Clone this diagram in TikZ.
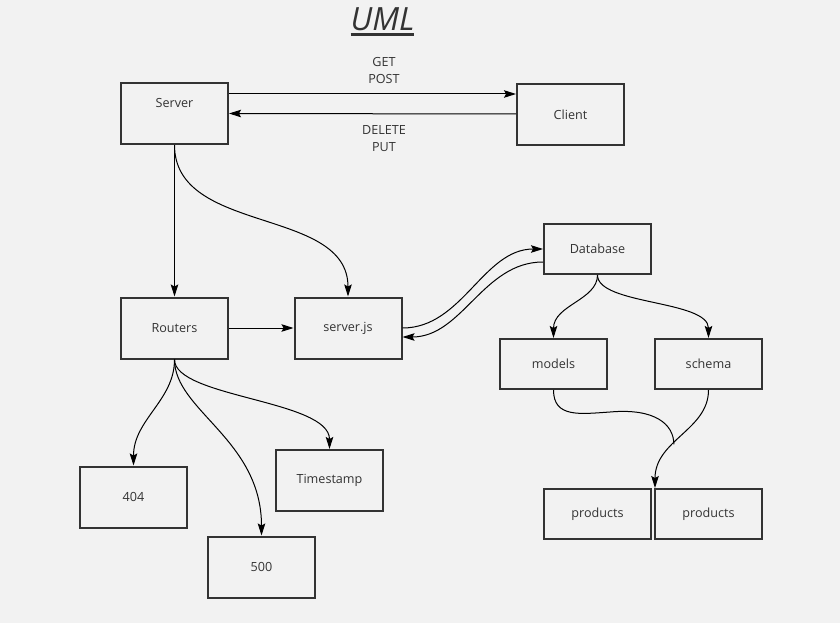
\documentclass[tikz,border=0pt]{standalone}
\usepackage{fontspec}
\setmainfont{Open Sans}
\usetikzlibrary{arrows.meta}
\definecolor{bgc}{HTML}{F2F2F2}
\definecolor{boxc}{HTML}{333333}
\definecolor{txtc}{HTML}{333333}
\newcommand\mytxt{\fontsize{12.6}{17}\selectfont}
\newcommand\myul[1]{\setbox0\hbox{#1}\rlap{\color{txtc}\rule[-5pt]{\wd0}{2.6pt}}\box0}
\begin{document}
\begin{tikzpicture}[x=1pt,y=-1pt,
  box/.style={draw=boxc, line width=2pt, minimum width=107pt, minimum height=61pt, inner sep=0pt, font=\mytxt, text=txtc, fill=bgc},
  sbox/.style={box, minimum height=50pt},
  conn/.style={draw=black, line width=1pt, -{Stealth[length=12pt,width=7.5pt,inset=2pt]}},
  plain/.style={draw=black, line width=1pt},
  lbl/.style={font=\mytxt, text=txtc, align=center, inner sep=0pt}]
\fill[bgc] (0,0) rectangle (840,623);
\useasboundingbox (0,0) rectangle (840,623);
\node[font=\fontsize{32}{38}\selectfont\itshape, text=txtc, inner sep=0pt] (title) at (382.5,22) {\myul{UML}};
\node[box] (server) at (174.5,113.5) {\raisebox{6pt}[0pt][0pt]{Server}};
\node[box] (client) at (570.5,114.5) {Client};
\node[box] (routers) at (174.5,328) {Routers};
\node[box] (serverjs) at (348,328) {server.js};
\node[sbox] (database) at (597.5,249) {Database};
\node[sbox] (models) at (553.5,364) {models};
\node[sbox] (schema) at (708.5,364) {schema};
\node[box] (n404) at (133.5,497) {404};
\node[box] (timestamp) at (329.5,480.5) {Timestamp};
\node[box] (n500) at (261.5,567) {500};
\node[sbox] (prodA) at (597.5,514) {products};
\node[sbox] (prodB) at (708.5,514) {products};
\draw[conn] ([yshift=19.5pt]server.east) -- node[lbl, pos=0.54, above=9.5pt]{GET\\POST} ([yshift=20.5pt]client.west);
\draw[conn] ([yshift=0.5pt]client.west) -- node[lbl, pos=0.46, below=11.5pt]{DELETE\\PUT} (server.east);
\draw[conn] (server.south) -- (routers.north);
\draw[conn] (server.south) .. controls +(0,90) and +(0,-90) .. (serverjs.north);
\draw[conn] (routers.east) -- (serverjs.west);
\draw[conn] (serverjs.east) .. controls +(60,0) and +(-60,0) .. (database.west);
\draw[conn] ([yshift=-13pt]database.west) .. controls +(-60,0) and +(60,0) .. ([yshift=-9pt]serverjs.east);
\draw[conn] (database.south) .. controls +(0,25) and +(0,-33) .. (models.north);
\draw[conn] (database.south) .. controls +(0,30) and +(0,-38) .. (schema.north);
\draw[conn] (routers.south) .. controls +(0,41) and +(0,-46) .. (n404.north);
\draw[conn] (routers.south) .. controls +(0,51) and +(0,-96) .. (n500.north);
\draw[conn] (routers.south) .. controls +(0,38) and +(0,-49) .. (timestamp.north);
\draw[conn] (schema.south) .. controls +(0,40) and +(0,-48) .. coordinate[pos=0.6] (merge) ([xshift=1pt]prodB.north west);
\draw[plain] (models.south) .. controls +(0,28) and +(-30,2) .. (610,412) .. controls +(45,-4) and +(0,-20) .. (merge);
\end{tikzpicture}
\end{document}
